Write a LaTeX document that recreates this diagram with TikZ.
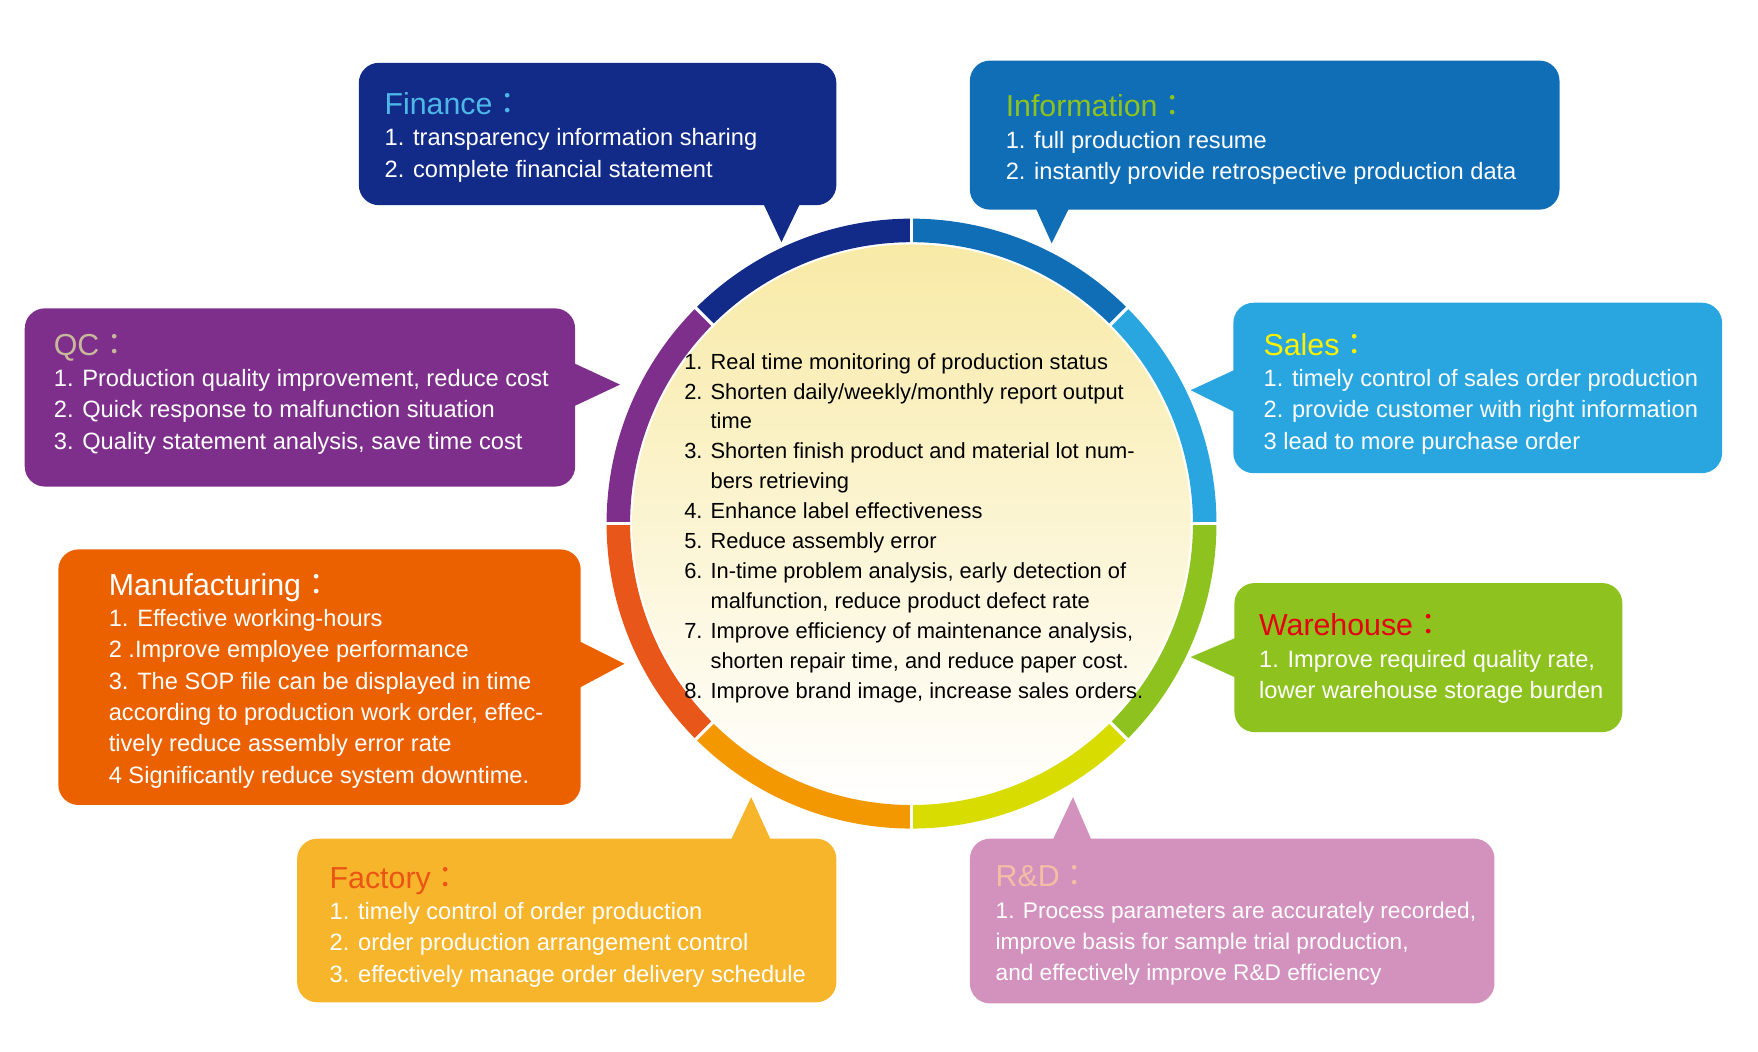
\documentclass[tikz,border=0pt]{standalone}
\usepackage{fontspec}
\setmainfont{Liberation Sans}
\newfontfamily\cjkfont{Noto Sans CJK JP}
\usetikzlibrary{positioning, calc}

\definecolor{finbox}{HTML}{132B88}
\definecolor{infobox}{HTML}{106EB7}
\definecolor{qcbox}{HTML}{7D2F8B}
\definecolor{mfgbox}{HTML}{EB6100}
\definecolor{facbox}{HTML}{F7B52C}
\definecolor{rdbox}{HTML}{D391BE}
\definecolor{salesbox}{HTML}{29A6DF}
\definecolor{whbox}{HTML}{8DC21F}
\definecolor{segmfg}{HTML}{E85719}
\definecolor{segfac}{HTML}{F39800}
\definecolor{segrd}{HTML}{D8DC00}
\definecolor{discyellow}{HTML}{F8EAA6}
\definecolor{fintitle}{HTML}{4DB8E8}
\definecolor{qctitle}{HTML}{C9B99B}
\definecolor{factitle}{HTML}{EA5514}
\definecolor{rdtitle}{HTML}{F2BFA5}
\definecolor{salestitle}{HTML}{FFF100}
\definecolor{whtitle}{HTML}{E60012}

\newcommand{\wcolon}{{\cjkfont ：}}
\newcommand{\bodyfont}{\fontsize{12}{15.9}\selectfont}
\newcommand{\headfont}{\fontsize{15.4}{18}\selectfont}
\newcommand{\discfont}{\fontsize{11.1}{15.2}\selectfont}

\tikzset{
  panel/.style={rounded corners=0.36cm, inner sep=0pt},
  paneltext/.style={inner sep=0pt, align=left, text=white, font=\bodyfont},
  ringgap/.style={white, line width=1.6pt},
}

\begin{document}
\begin{tikzpicture}[x=0.02cm, y=-0.02cm]
  \useasboundingbox (0,0) rectangle (1568,938);

  % Centre ring
  \coordinate (c) at (813,467);
  \foreach \a/\col in {0/salesbox, 45/infobox, 90/finbox, 135/qcbox, 180/segmfg, 225/segfac, 270/segrd, 315/whbox}
    \fill[\col] ($(c)+(-\a:272)$) arc[start angle=-\a, end angle=-\a-45, radius=272]
      -- ($(c)+(-\a-45:251)$) arc[start angle=-\a-45, end angle=-\a, radius=251] -- cycle;
  \foreach \a in {0,45,...,315}
    \draw[ringgap] ($(c)+(\a:248)$) -- ($(c)+(\a:275)$);
  \node[circle, minimum size=9.96cm, inner sep=0pt, top color=discyellow, bottom color=white] (disc) at (c) {};
  \node[font=\discfont, align=left, inner sep=0pt] (benefits) at ($(c)+(2,4)$) {
    1. Real time monitoring of production status\\
    2. Shorten daily/weekly/monthly report output\\
    \hphantom{2. }time\\
    3. Shorten finish product and material lot num-\\
    \hphantom{3. }bers retrieving\\
    4. Enhance label effectiveness\\
    5. Reduce assembly error\\
    6. In-time problem analysis, early detection of\\
    \hphantom{6. }malfunction, reduce product defect rate\\
    7. Improve efficiency of maintenance analysis,\\
    \hphantom{7. }shorten repair time, and reduce paper cost.\\
    8. Improve brand image, increase sales orders.
  };

  % Boxes
  \node[panel, fill=finbox, minimum width=8.52cm, minimum height=2.54cm] (fin) at (533,119.5) {};
  \node[panel, fill=infobox, minimum width=10.52cm, minimum height=2.66cm] (info) at (1128,120.5) {};
  \node[panel, fill=qcbox, minimum width=9.82cm, minimum height=3.18cm] (qc) at (267.5,354.5) {};
  \node[panel, fill=mfgbox, minimum width=9.32cm, minimum height=4.56cm] (mfg) at (285,604) {};
  \node[panel, fill=facbox, minimum width=9.62cm, minimum height=2.92cm] (fac) at (505.5,821) {};
  \node[panel, fill=rdbox, minimum width=9.36cm, minimum height=2.94cm] (rd) at (1099,821.5) {};
  \node[panel, fill=salesbox, minimum width=8.72cm, minimum height=3.04cm] (sales) at (1318,346) {};
  \node[panel, fill=whbox, minimum width=6.92cm, minimum height=2.66cm] (wh) at (1274,586.5) {};

  % Pointers
  \coordinate (finTip) at (697,216);
  \coordinate (infoTip) at (938,217);
  \coordinate (qcTip) at (553,343);
  \coordinate (mfgTip) at (557,592);
  \coordinate (facTip) at (670,711);
  \coordinate (rdTip) at (957,711);
  \coordinate (salesTip) at (1062,348);
  \coordinate (whTip) at (1062,586);
  \fill[finbox] ($(fin.south west)+(361,-2)$) -- ($(fin.south west)+(394,-2)$) -- (finTip) -- cycle;
  \fill[infobox] ($(info.south west)+(59,-2)$) -- ($(info.south west)+(89,-2)$) -- (infoTip) -- cycle;
  \fill[qcbox] ($(qc.north east)+(-2,49)$) -- ($(qc.north east)+(-2,88)$) -- (qcTip) -- cycle;
  \fill[mfgbox] ($(mfg.north east)+(-2,82)$) -- ($(mfg.north east)+(-2,124)$) -- (mfgTip) -- cycle;
  \fill[facbox] ($(fac.north west)+(387,2)$) -- ($(fac.north west)+(423,2)$) -- (facTip) -- cycle;
  \fill[rdbox] ($(rd.north west)+(74,2)$) -- ($(rd.north west)+(109,2)$) -- (rdTip) -- cycle;
  \fill[salesbox] ($(sales.north west)+(2,60)$) -- ($(sales.north west)+(2,98)$) -- (salesTip) -- cycle;
  \fill[whbox] ($(wh.north west)+(2,49)$) -- ($(wh.north west)+(2,85)$) -- (whTip) -- cycle;

  % Box texts
  \node[paneltext, right=0.46cm of fin.west, yshift=-0.06cm] (finText) {
    {\headfont\color{fintitle}Finance\wcolon}\\
    1. transparency information sharing\\
    2. complete financial statement
  };
  \node[paneltext, right=0.64cm of info.west, yshift=-0.08cm] (infoText) {
    {\headfont\color{whbox}Information\wcolon}\\
    1. full production resume\\
    2. instantly provide retrospective production data
  };
  \node[paneltext, right=0.52cm of qc.west, yshift=0.06cm] (qcText) {
    {\headfont\color{qctitle}QC\wcolon}\\
    1. Production quality improvement, reduce cost\\
    2. Quick response to malfunction situation\\
    3. Quality statement analysis, save time cost
  };
  \node[paneltext, right=0.9cm of mfg.west, yshift=-0.06cm] (mfgText) {
    {\headfont Manufacturing\wcolon}\\
    1. Effective working-hours\\
    2 .Improve employee performance\\
    3. The SOP file can be displayed in time\\
    according to production work order, effec-\\
    tively reduce assembly error rate\\
    4 Significantly reduce system downtime.
  };
  \node[paneltext, right=0.58cm of fac.west, yshift=-0.12cm] (facText) {
    {\headfont\color{factitle}Factory\wcolon}\\
    1. timely control of order production\\
    2. order production arrangement control\\
    3. effectively manage order delivery schedule
  };
  \node[paneltext, font=\fontsize{11.5}{15.9}\selectfont, right=0.46cm of rd.west, yshift=-0.08cm] (rdText) {
    {\headfont\color{rdtitle}R\&D\wcolon}\\
    1. Process parameters are accurately recorded,\\
    improve basis for sample trial production,\\
    and effectively improve R\&D efficiency
  };
  \node[paneltext, right=0.54cm of sales.west, yshift=-0.1cm] (salesText) {
    {\headfont\color{salestitle}Sales\wcolon}\\
    1. timely control of sales order production\\
    2. provide customer with right information\\
    3 lead to more purchase order
  };
  \node[paneltext, right=0.44cm of wh.west, yshift=-0.02cm] (whText) {
    {\headfont\color{whtitle}Warehouse\wcolon}\\
    1. Improve required quality rate,\\
    lower warehouse storage burden
  };
\end{tikzpicture}
\end{document}
